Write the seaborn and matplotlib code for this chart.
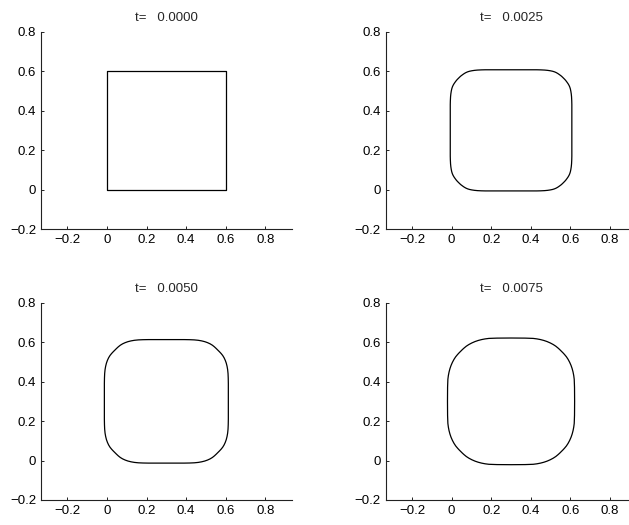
import numpy as np
import pandas as pd
import matplotlib
matplotlib.use("Agg")
import matplotlib.pyplot as plt
import seaborn as sns

# ---- data (one octant of each contour: from the
# middle of the left edge down to the diagonal of the lower-left corner) ----
titles = ["t=   0.0000", "t=   0.0025", "t=   0.0050", "t=   0.0075"]
center = 0.3

oct_x_0 = [0.000, 0.000]
oct_y_0 = [0.300, 0.000]

oct_x_1 = [-0.007, -0.007, -0.0065, -0.0055, -0.004, -0.002, 0.0005, 0.0035,
           0.007, 0.0115, 0.017, 0.0245, 0.030, 0.03525]
oct_y_1 = [0.300, 0.170, 0.150, 0.130, 0.115, 0.102, 0.090, 0.0805,
           0.0725, 0.0645, 0.0565, 0.0465, 0.0405, 0.03525]

oct_x_2 = [-0.013, -0.013, -0.0125, -0.0115, -0.0095, -0.0065, -0.0025, 0.0025,
           0.0085, 0.0155, 0.0235, 0.0318, 0.0402]
oct_y_2 = [0.300, 0.210, 0.182, 0.159, 0.139, 0.122, 0.106, 0.092,
           0.079, 0.0675, 0.0575, 0.0486, 0.0402]

oct_x_3 = [-0.021, -0.0205, -0.019, -0.0165, -0.013, -0.0085, -0.003, 0.004,
           0.012, 0.0205, 0.030, 0.0375, 0.0459]
oct_y_3 = [0.300, 0.229, 0.188, 0.169, 0.151, 0.134, 0.118, 0.102,
           0.087, 0.074, 0.0625, 0.0543, 0.0459]

octants = [(oct_x_0, oct_y_0), (oct_x_1, oct_y_1), (oct_x_2, oct_y_2), (oct_x_3, oct_y_3)]

x_ticks = [-0.2, 0, 0.2, 0.4, 0.6, 0.8]
x_ticklabels = ["\u22120.2", "0", "0.2", "0.4", "0.6", "0.8"]
y_ticks = [-0.2, 0, 0.2, 0.4, 0.6, 0.8]
y_ticklabels = ["\u22120.2", "0", "0.2", "0.4", "0.6", "0.8"]


def closed_curve(ox, oy, c):
    ox = np.asarray(ox, float)
    oy = np.asarray(oy, float)
    # lower-left quadrant: octant + its reflection in the diagonal
    qx = np.concatenate([ox, oy[::-1][1:]])
    qy = np.concatenate([oy, ox[::-1][1:]])
    br_x, br_y = 2 * c - qx[::-1][1:], qy[::-1][1:]
    tr_x, tr_y = 2 * c - qx[1:], 2 * c - qy[1:]
    tl_x, tl_y = qx[::-1][1:], 2 * c - qy[::-1][1:]
    X = np.concatenate([qx, br_x, tr_x, tl_x])
    Y = np.concatenate([qy, br_y, tr_y, tl_y])
    return X, Y


sns.set_style("ticks")
plt.rcParams["font.family"] = ["Liberation Sans", "DejaVu Sans"]
plt.rcParams["axes.unicode_minus"] = True

W, H = 629, 525
fig = plt.figure(figsize=(W / 100, H / 100), dpi=100)

ax_w = 250.7 / W
ax_h = 197.3 / H
lefts = [41 / W, 385.7 / W]
bottoms = [1 - 229 / H, 1 - 500 / H]

positions = [
    (lefts[0], bottoms[0]),
    (lefts[1], bottoms[0]),
    (lefts[0], bottoms[1]),
    (lefts[1], bottoms[1]),
]

for i, (ox, oy) in enumerate(octants):
    ax = fig.add_axes([positions[i][0], positions[i][1], ax_w, ax_h])
    X, Y = closed_curve(ox, oy, center)
    df = pd.DataFrame({"x": X, "y": Y})
    sns.lineplot(data=df, x="x", y="y", sort=False, estimator=None,
                 color="black", linewidth=0.9, ax=ax,
                 solid_capstyle="butt", solid_joinstyle="round")
    ax.set_xlim(-0.333, 0.933)
    ax.set_ylim(-0.2, 0.8)
    ax.set_xticks(x_ticks)
    ax.set_xticklabels(x_ticklabels)
    ax.set_yticks(y_ticks)
    ax.set_yticklabels(y_ticklabels)
    ax.set_xlabel("")
    ax.set_ylabel("")
    for s in ["top", "right"]:
        ax.spines[s].set_visible(False)
    for s in ["left", "bottom"]:
        ax.spines[s].set_linewidth(0.8)
        ax.spines[s].set_color("#222222")
    ax.tick_params(direction="in", length=2.5, width=0.7, labelsize=9.5,
                   pad=3.5, colors="#222222", labelcolor="black")
    ax.set_title(titles[i], fontsize=9.5, pad=7.5)

fig.savefig("out.png", dpi=100)
